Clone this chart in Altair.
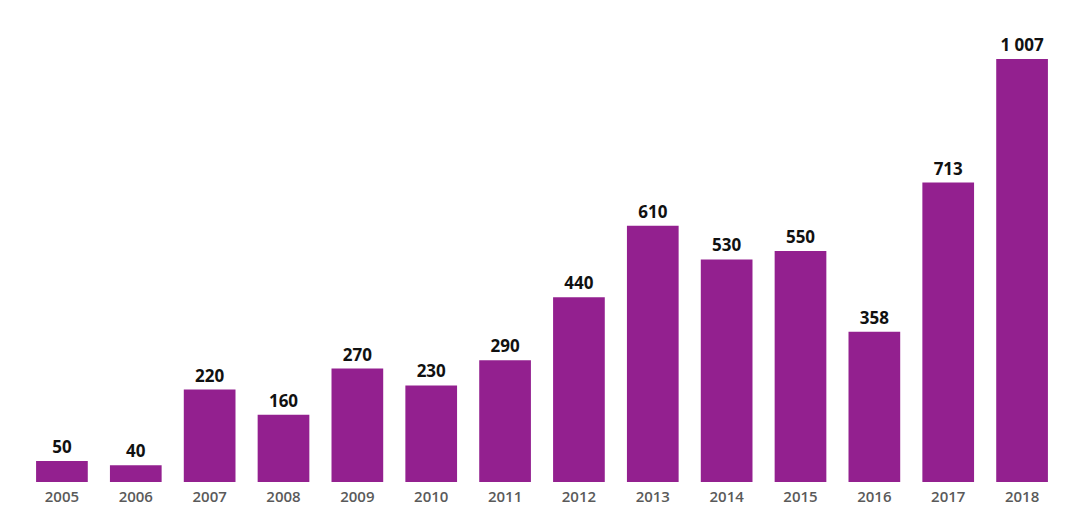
import altair as alt
import pandas as pd

years = ["2005", "2006", "2007", "2008", "2009", "2010", "2011", "2012",
         "2013", "2014", "2015", "2016", "2017", "2018"]
values = [50, 40, 220, 160, 270, 230, 290, 440, 610, 530, 550, 358, 713, 1007]

df = pd.DataFrame({
    "year": years,
    "value": values,
    "label": [f"{v:,}".replace(",", " ") for v in values],
})

base = alt.Chart(df).encode(
    x=alt.X("year:N", sort=years, title=None,
            scale=alt.Scale(paddingInner=0.3, paddingOuter=0.15),
            axis=alt.Axis(labelAngle=0, domain=False, ticks=False, grid=False,
                          labelFont="Open Sans", labelFontSize=15,
                          labelFontWeight=600, labelColor="#5a5a5a",
                          labelPadding=7)),
    y=alt.Y("value:Q", title=None,
            scale=alt.Scale(domain=[0, 1100], nice=False),
            axis=None),
)

bars = base.mark_bar(color="#93208f")
text = base.mark_text(dy=-13, font="Open Sans", fontSize=17,
                      fontWeight="bold", color="#111111").encode(text="label:N")

chart = (bars + text).properties(
    width=1034, height=462,
    padding={"left": 17, "top": 12, "right": 0, "bottom": 0},
).configure_view(stroke=None)

chart.save("out.html", embed_options={"renderer": "svg", "actions": False})
